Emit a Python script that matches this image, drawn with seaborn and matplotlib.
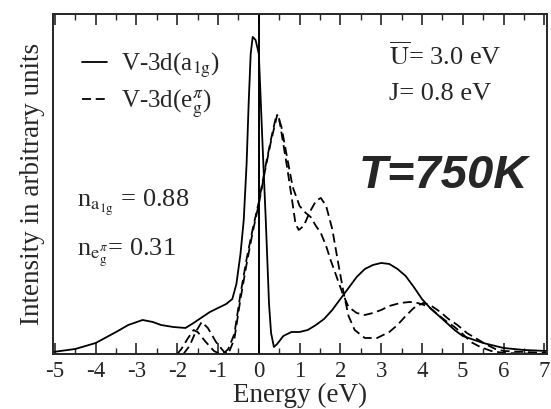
import matplotlib
matplotlib.use("Agg")
import matplotlib.pyplot as plt
import seaborn as sns
import pandas as pd
from matplotlib.ticker import MultipleLocator

# ---- data ----
a1g_energy = [-5.05, -4.5, -4.0, -3.5, -3.2, -2.85, -2.6, -2.4, -2.1, -1.8, -1.6, -1.42, -1.2,
              -1.0, -0.8, -0.65, -0.55, -0.45, -0.37, -0.3, -0.25, -0.2, -0.15, -0.08, 0.0,
              0.08, 0.17, 0.25, 0.3, 0.37, 0.45, 0.6, 0.8, 1.0, 1.2, 1.4, 1.6, 1.8, 2.0,
              2.2, 2.4, 2.6, 2.8, 3.0, 3.2, 3.4, 3.6, 3.8, 4.0, 4.2, 4.5, 4.8, 5.0, 5.5,
              6.0, 6.5, 7.05]
a1g_value = [2, 5, 11, 22, 29, 34, 32, 29, 27, 26, 31, 36, 42,
             46, 50, 55, 70, 100, 134, 190, 250, 300, 317, 314, 300,
             220, 134, 50, 21, 7, 10, 18, 22, 22, 24, 29, 35, 44, 55,
             66, 77, 85, 89, 91, 90, 85, 78, 67, 55, 46, 35, 24, 18, 11,
             6, 4, 3]

egA_energy = [-2.0, -1.9, -1.75, -1.6, -1.5, -1.3, -1.1, -0.95, -0.85, -0.75, -0.6, -0.45,
              -0.3, -0.15, 0.0, 0.15, 0.3, 0.42, 0.5, 0.6, 0.7, 0.8, 0.9, 0.98, 1.1, 1.25,
              1.4, 1.52, 1.65, 1.8, 1.95, 2.08, 2.2, 2.35, 2.6, 2.9, 3.2, 3.4, 3.6, 3.8,
              4.03, 4.2, 4.45, 4.65, 4.87, 5.1, 5.35, 5.6, 5.8, 6.0, 6.5, 7.05]
egA_value = [0, 5, 15, 24, 22, 12, 3, 0, 1, 5, 20, 60,
             95, 125, 152, 185, 215, 237, 235, 210, 185, 158, 130, 124, 128, 142,
             153, 156, 148, 125, 90, 61, 38, 24, 16, 16, 22, 29, 38, 46,
             51, 49, 42, 35, 29, 21, 15, 9, 5, 3, 2, 1]

egB_energy = [-1.85, -1.7, -1.55, -1.4, -1.25, -1.05, -0.85, -0.75, -0.6, -0.45, -0.3, -0.15,
              0.0, 0.15, 0.3, 0.45, 0.55, 0.7, 0.83, 1.0, 1.15, 1.27, 1.4, 1.52, 1.65, 1.76,
              1.9, 2.05, 2.2, 2.4, 2.6, 2.8, 3.0, 3.2, 3.47, 3.7, 3.89, 4.05, 4.2, 4.4,
              4.62, 4.8, 5.0, 5.2, 5.43, 5.7, 6.0, 6.5, 7.05]
egB_value = [0, 8, 22, 32, 26, 12, 2, 0, 15, 55, 90, 122,
             150, 183, 213, 239, 228, 195, 167, 148, 141, 137, 128, 121, 108, 94,
             78, 61, 47, 41, 39, 41, 44, 48, 51, 52, 51, 49, 46, 39,
             32, 27, 20, 12, 7, 3, 1, 0.5, 0]

x_ticks = [-5, -4, -3, -2, -1, 0, 1, 2, 3, 4, 5, 6, 7]

df_a1g = pd.DataFrame({"Energy": a1g_energy, "Intensity": a1g_value})
df_egA = pd.DataFrame({"Energy": egA_energy, "Intensity": egA_value})
df_egB = pd.DataFrame({"Energy": egB_energy, "Intensity": egB_value})

sns.set_style("ticks")
plt.rcParams["font.family"] = ["Liberation Serif", "DejaVu Serif"]
plt.rcParams["mathtext.fontset"] = "stix"
plt.rcParams["axes.unicode_minus"] = False

fig = plt.figure(figsize=(5.51, 4.09), dpi=100)
ax = fig.add_axes([0.096, 0.1345, 0.897, 0.8315])

lw = 1.3
dash = (5, 2.6)
sns.lineplot(data=df_a1g, x="Energy", y="Intensity", ax=ax, color="black", lw=lw,
             label=r"V-3d(a$_{\mathrm{1g}}$)", sort=False, estimator=None)
sns.lineplot(data=df_egA, x="Energy", y="Intensity", ax=ax, color="black", lw=lw,
             label=r"V-3d(e$_{\mathrm{g}}^{\pi}$)", sort=False, estimator=None)
sns.lineplot(data=df_egB, x="Energy", y="Intensity", ax=ax, color="black", lw=lw,
             sort=False, estimator=None)
for ln in ax.lines[1:3]:
    ln.set_dashes(dash)
ax.axvline(0, color="black", lw=1.4)

ax.set_xlim(-5.05, 7.07)
ax.set_ylim(0, 340)
ax.set_xticks(x_ticks)
ax.set_xticklabels([str(t) for t in x_ticks])
ax.xaxis.set_minor_locator(MultipleLocator(0.5))
ax.set_yticks([])
ax.tick_params(axis="x", which="major", direction="in", length=8, width=1.2,
               top=True, labelsize=16.5, pad=5)
ax.tick_params(axis="x", which="minor", direction="in", length=4, width=1.0, top=True)
for s in ax.spines.values():
    s.set_linewidth(1.4)
    s.set_visible(True)

ax.set_xlabel("Energy (eV)", fontsize=19.5, labelpad=1)
ax.set_ylabel("Intensity in arbitrary units", fontsize=19.5, labelpad=6)

leg = ax.legend(loc="upper left", bbox_to_anchor=(0.0587, 0.89), frameon=False,
                fontsize=18, handlelength=1.0, handletextpad=0.55, labelspacing=0.3,
                borderaxespad=0.0, borderpad=0.0)
for h in leg.get_lines():
    h.set_linewidth(lw)
leg.get_lines()[1].set_dashes(dash)

ax.text(0.68, 0.85, r"$\overline{\mathrm{U}}$= 3.0 eV", transform=ax.transAxes, fontsize=19)
ax.text(0.68, 0.747, "J= 0.8 eV", transform=ax.transAxes, fontsize=19)
ax.text(0.619, 0.488, "T=750K", transform=ax.transAxes, fontsize=34,
        family="Liberation Sans", fontweight="bold", fontstyle="italic")
ax.text(0.049, 0.432, r"n$_{\mathrm{a}_{\mathrm{1g}}}$ = 0.88", transform=ax.transAxes, fontsize=19)
ax.text(0.049, 0.291, r"n$_{\mathrm{e}_{\mathrm{g}}^{\pi}}$= 0.31", transform=ax.transAxes, fontsize=19)

fig.savefig("out.png", dpi=100)
